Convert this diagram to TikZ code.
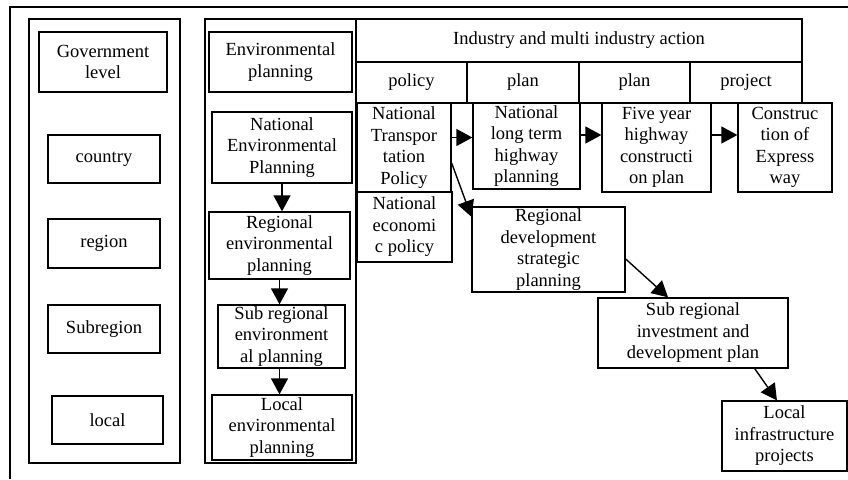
\documentclass[tikz,border=0pt]{standalone}
\usepackage{fontspec}
\setmainfont{Liberation Serif}
\usetikzlibrary{arrows.meta,calc}
\tikzset{
  box/.style={draw, line width=1.3pt, inner sep=1pt, align=center,
    font=\fontsize{18.5pt}{21.5pt}\selectfont},
  frame/.style={draw, line width=1.3pt, inner sep=0pt},
  arr/.style={line width=1.4pt, -{Triangle[length=16pt,width=17pt]}}
}
\begin{document}
\begin{tikzpicture}[x=1pt,y=-1pt]
\useasboundingbox (0,0) rectangle (848,479);
% outer frame (left and top edges)
\coordinate (fl) at (10,479);
\coordinate (fc) at (10,7);
\coordinate (fr) at (848,7);
\draw[line width=1.3pt] (fl) -- (fc) -- (fr);

% government level column
\node[frame, minimum width=151pt, minimum height=444pt] (colA) at (104.5,241) {};
\node[box, minimum width=128pt, minimum height=60pt] (gov) at (103,62) {Government\\level};
\node[box, minimum width=112pt, minimum height=48pt] (country) at (104,159) {country};
\node[box, minimum width=112pt, minimum height=49pt] (region) at (104,243.5) {region};
\node[box, minimum width=112pt, minimum height=48pt] (subregion) at (104,329) {Subregion};
\node[box, minimum width=111pt, minimum height=48pt] (local) at (107.5,420) {local};

% environmental planning column
\node[frame, minimum width=151pt, minimum height=444pt] (colB) at (280.5,241) {};
\node[box, minimum width=143pt, minimum height=60pt] (envp) at (280.5,62) {Environmental\\planning};
\node[box, minimum width=140pt, minimum height=71pt] (nep) at (282,147.5) {National\\Environmental\\Planning};
\node[box, minimum width=141pt, minimum height=67pt] (rep) at (279.5,245.5) {Regional\\environmental\\planning};
\node[box, minimum width=127pt, minimum height=63pt] (srep) at (281.5,336.5) {Sub regional\\environment\\al planning};
\node[box, minimum width=140pt, minimum height=65pt] (lep) at (282,427.5) {Local\\environmental\\planning};

% industry header
\node[box, minimum width=446pt, minimum height=43pt] (ind) at (579,40.5) {Industry and multi industry action};
\node[box, minimum width=111pt, minimum height=41pt] (hpolicy) at (411.5,82.5) {policy};
\node[box, minimum width=112pt, minimum height=41pt] (hplanA) at (523,82.5) {plan};
\node[box, minimum width=111pt, minimum height=41pt] (hplanB) at (634.5,82.5) {plan};
\node[box, minimum width=112pt, minimum height=41pt] (hproject) at (746,82.5) {project};

% action boxes
\node[box, minimum width=94pt, minimum height=89pt] (ntp) at (404,147.5) {National\\Transpor\\tation\\Policy};
\node[box, minimum width=95pt, minimum height=70pt] (necp) at (404.5,227) {National\\economi\\c policy};
\node[box, minimum width=107pt, minimum height=86pt] (nlthp) at (526.5,146) {National\\long term\\highway\\planning};
\node[box, minimum width=109pt, minimum height=89pt] (fyhcp) at (656.5,147.5) {Five year\\highway\\constructi\\on plan};
\node[box, minimum width=94pt, minimum height=89pt] (cew) at (785,147.5) {Construc\\tion of\\Express\\way};
\node[box, minimum width=153pt, minimum height=85pt] (rdsp) at (548.5,249.5) {Regional\\development\\strategic\\planning};
\node[box, minimum width=190pt, minimum height=70pt] (sridp) at (693,333) {Sub regional\\investment and\\development plan};
\node[box, minimum width=125pt, minimum height=70pt] (lip) at (784.5,436) {Local\\infrastructure\\projects};

% vertical arrows in environmental planning column
\draw[arr] (nep.south) -- (nep.south |- rep.north);
\draw[arr] (rep.south) -- (rep.south |- srep.north);
\draw[arr] (rep.south |- srep.south) -- (rep.south |- lep.north);

% horizontal arrows
\coordinate (h1) at ([yshift=10pt]ntp.east);
\coordinate (h2) at ([yshift=11pt]nlthp.east);
\coordinate (h3) at ([yshift=12.5pt]fyhcp.east);
\draw[arr] (h1) -- (h1 -| nlthp.west);
\draw[arr] (h2) -- (h2 -| fyhcp.west);
\draw[arr] (h3) -- (h3 -| cew.west);

% diagonal arrows
\draw[arr] (ntp.-18) -- (rdsp.157.6);
\draw[arr] (rdsp.-7.8) -- (sridp.125.5);
\draw[arr] (sridp.-30.7) -- (lip.102.1);
\end{tikzpicture}
\end{document}
